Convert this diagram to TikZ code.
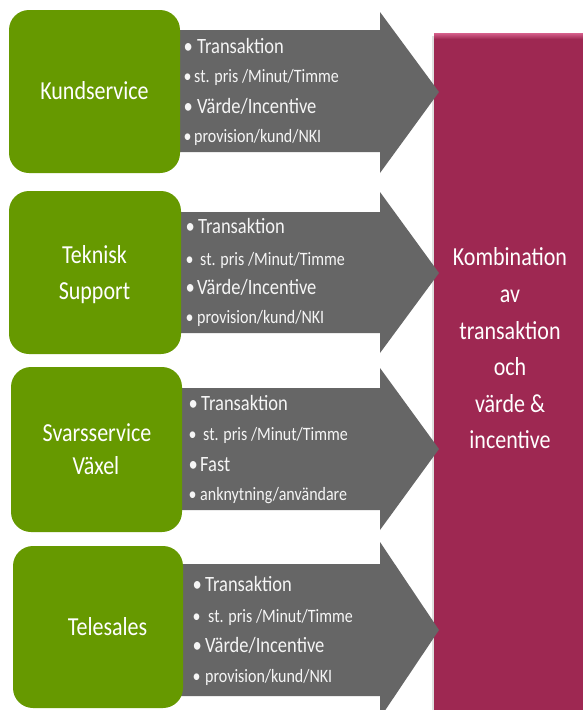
\documentclass[tikz,border=0pt]{standalone}
\usepackage{fontspec}
\setmainfont{Carlito}
\usepackage{graphicx}
\definecolor{leaf}{RGB}{102,153,0}
\definecolor{slate}{RGB}{102,102,102}
\definecolor{berry}{RGB}{158,40,82}
\definecolor{berrylight}{RGB}{214,96,140}
\newcommand\vst[1]{\scalebox{1}[1.18]{#1}}
% bullet line: name, bullet x, text x, baseline y, style, text
\newcommand\bulletline[6]{%
  \node[#5] (#1) at (#2-1.5,#4) {\makebox[\dimexpr #3pt-#2pt+1.5pt\relax][l]{\vst{•}}\vst{#6}};}
\tikzset{
  greenbox/.style={fill=leaf, draw=none, rounded corners=20pt},
  blockarrow/.style={fill=slate, draw=none},
  bigline/.style={font=\fontsize{18.5}{20}\selectfont, text=white!96!black, inner sep=0pt, anchor=base west},
  smallline/.style={font=\fontsize{16}{18}\selectfont, text=white!96!black, inner sep=0pt, anchor=base west},
  title/.style={font=\fontsize{22}{24}\selectfont, text=white, inner sep=0pt, anchor=base},
}
\begin{document}
\begin{tikzpicture}[x=1pt,y=-1pt]
\useasboundingbox (0,0) rectangle (583,710);
\fill[white] (0,0) rectangle (583,710);

% target block on the right, with a soft shadow and a bevelled top edge
\fill[black!12] (431.5,36) rectangle (434,715);
\node[fill=berry, minimum width=150pt, minimum height=682pt, inner sep=0pt, anchor=north west] (target) at (434,33) {};
\shade[top color=berrylight, bottom color=berry] (434,33) rectangle (584,39);

% block arrows
\newcommand\blockarrow[5]{% body top, body bottom, head top, head bottom, tip y
  \fill[blockarrow] (170,#1) -- (380,#1) -- (380,#3) -- (439,#5) -- (380,#4) -- (380,#2) -- (170,#2) -- cycle;}
\blockarrow{30}{152}{12}{173}{92}
\blockarrow{212}{333}{192}{353}{273}
\blockarrow{388}{510}{368}{530}{449}
\blockarrow{564}{696}{542}{718}{630}

% source boxes
\fill[greenbox] (9,10) rectangle (180,173);
\fill[greenbox] (9,191) rectangle (181,354);
\fill[greenbox] (11,367) rectangle (182,532);
\fill[greenbox] (13,546) rectangle (183,708);

% source labels
\node[title] (kund) at (94.5,99) {\vst{Kundservice}};
\node[title] (tek1) at (94.5,263) {\vst{Teknisk}};
\node[title] (tek2) at (94.5,299) {\vst{Support}};
\node[title] (svar1) at (97,441) {\vst{Svarsservice}};
\node[title] (svar2) at (96,474) {\vst{Växel}};
\node[title] (tele) at (107.5,635) {\vst{Telesales}};

% arrow contents
\bulletline{a1}{185}{197}{53}{bigline}{Transaktion}
\bulletline{a2}{185}{194}{82}{smallline}{st. pris /Minut/Timme}
\bulletline{a3}{185}{197}{113}{bigline}{Värde/Incentive}
\bulletline{a4}{185}{194}{142}{smallline}{provision/kund/NKI}

\bulletline{b1}{187}{198}{233}{bigline}{Transaktion}
\bulletline{b2}{187}{200}{265}{smallline}{st. pris /Minut/Timme}
\bulletline{b3}{187}{197}{294}{bigline}{Värde/Incentive}
\bulletline{b4}{187}{197}{323}{smallline}{provision/kund/NKI}

\bulletline{c1}{190}{201}{410}{bigline}{Transaktion}
\bulletline{c2}{190}{203}{440}{smallline}{st. pris /Minut/Timme}
\bulletline{c3}{190}{200}{471}{bigline}{Fast}
\bulletline{c4}{190}{200}{500}{smallline}{anknytning/användare}

\bulletline{d1}{194}{205}{591}{bigline}{Transaktion}
\bulletline{d2}{194}{208}{622}{smallline}{st. pris /Minut/Timme}
\bulletline{d3}{194}{205}{652}{bigline}{Värde/Incentive}
\bulletline{d4}{194}{205}{682}{smallline}{provision/kund/NKI}

% target label
\node[title] (k1) at (510,265) {\vst{Kombination}};
\node[title] (k2) at (510,302) {\vst{av}};
\node[title] (k3) at (510,339) {\vst{transaktion}};
\node[title] (k4) at (510,375) {\vst{och}};
\node[title] (k5) at (510,412) {\vst{värde \&}};
\node[title] (k6) at (510,448) {\vst{incentive}};
\end{tikzpicture}
\end{document}
